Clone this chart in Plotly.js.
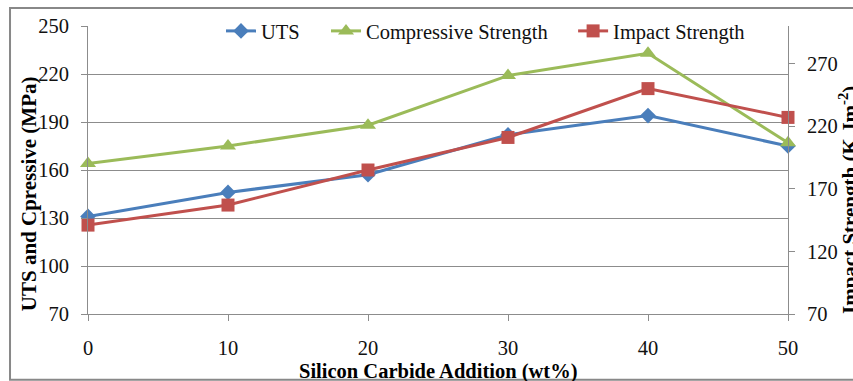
<!DOCTYPE html>
<html>
<head>
<meta charset="utf-8">
<script src="https://cdn.plot.ly/plotly-3.0.1.min.js"></script>
<style>html,body{margin:0;padding:0;background:#fff}#chart{width:853px;height:381px}</style>
</head>
<body>
<div id="chart"></div>
<script>
const sicAddition = [0, 10, 20, 30, 40, 50];
const uts = [131, 146, 157, 182, 194, 175];
const compressive = [164, 175, 188, 219, 233, 177];
const impact = [141, 157, 185, 211, 250, 227];
const leftTicks = [70, 100, 130, 160, 190, 220, 250];
const rightTicks = [70, 120, 170, 220, 270];
const xTicks = [0, 10, 20, 30, 40, 50];

const FONT = 'Liberation Serif';
const GRID = '#8c8c8c';

const traces = [
  {x: sicAddition, y: uts, name: 'UTS', type: 'scatter', mode: 'lines+markers', legend: 'legend',
   line: {color: '#4A7EBB', width: 3}, marker: {symbol: 'diamond', size: 12, color: '#4A7EBB'}, cliponaxis: false},
  {x: sicAddition, y: compressive, name: 'Compressive Strength', type: 'scatter', mode: 'lines+markers', legend: 'legend2',
   line: {color: '#9BBB59', width: 3}, marker: {symbol: 'triangle-up', size: 14, color: '#9BBB59'}, cliponaxis: false},
  {x: sicAddition, y: impact, name: 'Impact Strength', type: 'scatter', mode: 'lines+markers', yaxis: 'y2', legend: 'legend3',
   line: {color: '#C0504D', width: 3}, marker: {symbol: 'square', size: 13, color: '#C0504D'}, cliponaxis: false}
];

const legendBase = {orientation: 'h', xanchor: 'left', y: 0.979, yanchor: 'middle', bgcolor: 'rgba(0,0,0,0)'};

const layout = {
  width: 853, height: 381,
  margin: {l: 88, r: 65, t: 25, b: 67, pad: 0},
  paper_bgcolor: '#fff', plot_bgcolor: '#fff',
  font: {family: FONT, size: 20.5, color: '#111'},
  showlegend: true,
  legend: Object.assign({}, legendBase, {x: 0.19}),
  legend2: Object.assign({}, legendBase, {x: 0.34}),
  legend3: Object.assign({}, legendBase, {x: 0.693}),
  xaxis: {range: [0, 50], tickvals: xTicks, showgrid: false, zeroline: false,
          showline: true, linecolor: GRID, linewidth: 1, ticks: 'outside', ticklen: 6, tickcolor: GRID,
          ticklabelstandoff: 9},
  yaxis: {range: [70, 250], tickvals: leftTicks, showgrid: true, gridcolor: GRID, gridwidth: 1, zeroline: false,
          showline: true, linecolor: GRID, linewidth: 1, ticks: 'outside', ticklen: 6, tickcolor: GRID,
          ticklabelstandoff: 8},
  yaxis2: {range: [70, 300], tickvals: rightTicks, overlaying: 'y', side: 'right', showgrid: false, zeroline: false,
           showline: true, linecolor: GRID, linewidth: 1, ticks: 'outside', ticklen: 6, tickcolor: GRID,
           ticklabelstandoff: 8},
  shapes: [
    {type: 'rect', xref: 'paper', yref: 'paper', x0: -0.1114, x1: 1.11, y0: -0.228, y1: 1.0624,
     line: {color: '#888', width: 2}, fillcolor: 'rgba(0,0,0,0)', layer: 'below'}
  ],
  annotations: [
    {text: '<b>UTS and Cpressive (MPa)</b>', xref: 'paper', yref: 'paper', x: 0, xshift: -73, xanchor: 'left',
     y: 0.416, yanchor: 'middle', textangle: -90, showarrow: false, font: {size: 21, color: '#000'}},
    {text: '<b>Impact Strength (K.Jm<sup>-2</sup>)</b>', xref: 'paper', yref: 'paper', x: 1, xshift: 45, xanchor: 'left',
     y: 0.394, yanchor: 'middle', textangle: -90, showarrow: false, font: {size: 21, color: '#000'}},
    {text: '<b>Silicon Carbide Addition (wt%)</b>', xref: 'paper', yref: 'paper', x: 0.5, xanchor: 'center',
     y: -0.198, yanchor: 'middle', showarrow: false, font: {size: 20.5, color: '#000'}}
  ]
};

Plotly.newPlot('chart', traces, layout, {staticPlot: true, displayModeBar: false});
</script>
</body>
</html>
